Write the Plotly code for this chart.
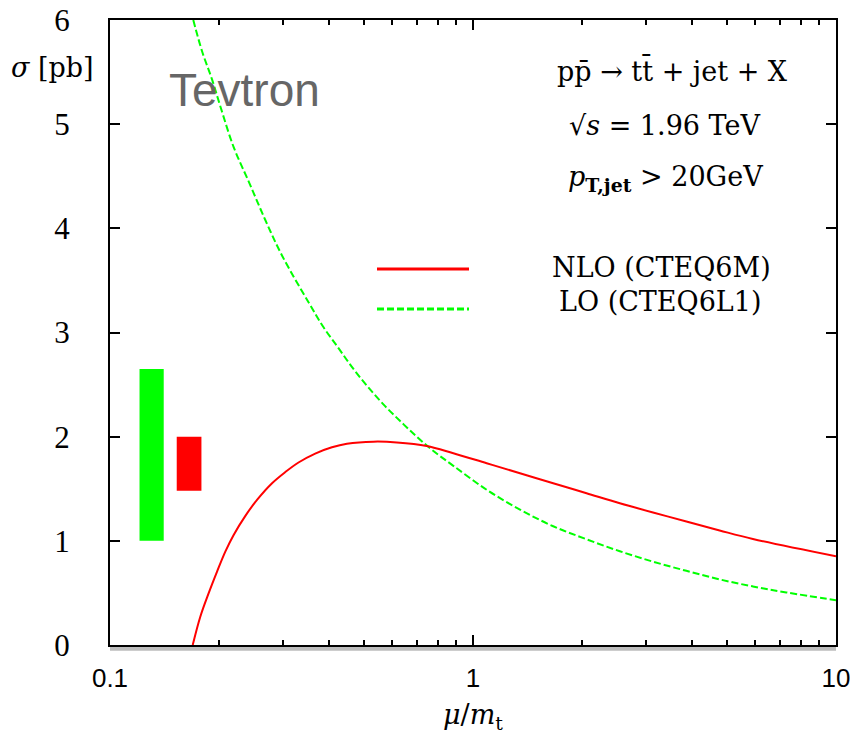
import plotly.graph_objects as go

# Scale dependence of the ttbar+jet cross section at the Tevatron
mu_lo = [0.1696, 0.1793, 0.1910, 0.2014, 0.2191, 0.2424, 0.2678, 0.2977, 0.3523,
         0.3875, 0.4261, 0.4638, 0.5101, 0.5665, 0.6299, 0.7000, 0.7698, 0.8828,
         1.0906, 1.347, 1.663, 2.055, 2.538, 3.133, 3.871, 4.780, 5.903, 7.295, 10.0]
sigma_lo = [6.00, 5.70, 5.43, 5.17, 4.78, 4.43, 4.08, 3.74, 3.29,
            3.05, 2.85, 2.67, 2.49, 2.31, 2.15, 2.00, 1.875, 1.72,
            1.49, 1.30, 1.14, 1.015, 0.90, 0.80, 0.712, 0.63, 0.562, 0.505, 0.43]

mu_nlo = [0.1690, 0.1774, 0.1870, 0.1972, 0.2078, 0.2191, 0.2360, 0.2541, 0.2795,
          0.3040, 0.3306, 0.3675, 0.4087, 0.4494, 0.5317, 0.6168, 0.7456, 0.8828,
          1.0906, 1.347, 1.663, 2.055, 2.538, 3.133, 3.871, 4.780, 5.903, 10.0]
sigma_nlo = [0.0, 0.274, 0.498, 0.705, 0.897, 1.057, 1.240, 1.393, 1.553,
             1.660, 1.752, 1.838, 1.898, 1.932, 1.952, 1.945, 1.911, 1.841,
             1.745, 1.649, 1.553, 1.457, 1.361, 1.272, 1.186, 1.100, 1.018, 0.852]

# Scale-variation bands (mu range of each box, sigma range of each box)
lo_band_mu = [0.1206, 0.1406]
lo_band_sigma = [1.0, 2.65]
nlo_band_mu = [0.1527, 0.1786]
nlo_band_sigma = [1.48, 2.0]

x_ticks = [0.1, 1, 10]
x_tick_text = ["0.1", "1", "10"]
y_ticks = [0, 1, 2, 3, 4, 5, 6]
minor_ticks = [k * 10.0 ** e for e in (-1, 0) for k in range(2, 10)]

RED = "#ff0000"
GREEN = "#00ff00"
SERIF = "DejaVu Serif"


def box(mu, sig):
    return ([mu[0], mu[1], mu[1], mu[0], mu[0]],
            [sig[0], sig[0], sig[1], sig[1], sig[0]])


fig = go.Figure()

bx, by = box(lo_band_mu, lo_band_sigma)
fig.add_trace(go.Scatter(x=bx, y=by, fill="toself", fillcolor=GREEN, mode="lines",
                         line=dict(width=0, color=GREEN), showlegend=False, hoverinfo="skip"))
bx, by = box(nlo_band_mu, nlo_band_sigma)
fig.add_trace(go.Scatter(x=bx, y=by, fill="toself", fillcolor=RED, mode="lines",
                         line=dict(width=0, color=RED), showlegend=False, hoverinfo="skip"))

fig.add_trace(go.Scatter(x=mu_lo, y=sigma_lo, mode="lines", name="LO (CTEQ6L1)",
                         line=dict(color=GREEN, width=2, dash="7px,3px", shape="spline",
                                   smoothing=1.0),
                         showlegend=False))
fig.add_trace(go.Scatter(x=mu_nlo, y=sigma_nlo, mode="lines", name="NLO (CTEQ6M)",
                         line=dict(color=RED, width=2, shape="spline", smoothing=1.0),
                         showlegend=False))

# invisible trace to carry the minor-tick axis
fig.add_trace(go.Scatter(x=[1], y=[0], xaxis="x2", mode="markers",
                         marker=dict(opacity=0), showlegend=False, hoverinfo="skip"))

fig.update_layout(
    width=850, height=737,
    margin=dict(l=110, r=14, t=20, b=92),
    paper_bgcolor="white", plot_bgcolor="white",
    xaxis=dict(type="log", range=[-1, 1], tickvals=x_ticks, ticktext=x_tick_text,
               ticks="inside", ticklen=10, tickwidth=2, tickcolor="black",
               showline=True, linecolor="black", linewidth=2, mirror="ticks",
               showgrid=False, zeroline=False, ticklabelstandoff=9,
               ticklabeloverflow="allow", automargin=False,
               tickfont=dict(family="Liberation Sans", size=26, color="black")),
    xaxis2=dict(type="log", range=[-1, 1], overlaying="x", anchor="y", side="bottom",
                tickvals=minor_ticks, ticks="inside", ticklen=5, tickwidth=1.5,
                tickcolor="black", showticklabels=False, showline=False,
                mirror="ticks", showgrid=False, zeroline=False, automargin=False),
    yaxis=dict(range=[0, 6], tickvals=y_ticks, ticks="inside", ticklen=10, tickwidth=2,
               tickcolor="black", showline=True, linecolor="black", linewidth=2,
               mirror="ticks", showgrid=False, zeroline=False, ticklabelstandoff=32,
               automargin=False,
               tickfont=dict(family="Liberation Serif", size=31, color="black")),
)

# shadow line under the x axis
fig.add_shape(type="line", xref="paper", yref="paper", x0=0, x1=1, y0=-0.006, y1=-0.006,
              line=dict(color="#bdbdbd", width=4), layer="below")


def px_x(px):
    return (px - 110) / 726


def px_y(py):
    return (645 - py) / 625


# legend keys
fig.add_shape(type="line", xref="paper", yref="paper", x0=px_x(377), x1=px_x(469),
              y0=px_y(269), y1=px_y(269), line=dict(color=RED, width=3))
fig.add_shape(type="line", xref="paper", yref="paper", x0=px_x(377), x1=px_x(469),
              y0=px_y(309), y1=px_y(309), line=dict(color=GREEN, width=3, dash="7px,3px"))


def label(text, x, y, size=27, family=SERIF, color="black"):
    fig.add_annotation(text=text, xref="paper", yref="paper", x=px_x(x), y=px_y(y),
                       xanchor="center", yanchor="middle", showarrow=False,
                       font=dict(family=family, size=size, color=color))


label("NLO (CTEQ6M)", 661, 267)
label("LO (CTEQ6L1)", 660, 301)
label("pp\u0304 \u2192 tt\u0304 + jet + X", 672, 70)
label("\u221a<i>s</i> = 1.96 TeV", 664, 126)
label("<i>p</i><sub><b>T,jet</b></sub> > 20GeV", 665, 178)
label("Tevtron", 244, 90, size=46, family="Liberation Sans", color="#666666")
label("<i>\u03c3</i> [pb]", 52, 68, size=27)
label("<i>\u03bc</i>/<i>m</i><sub>t</sub>", 473, 716, size=27)

fig.write_html("out.html")
